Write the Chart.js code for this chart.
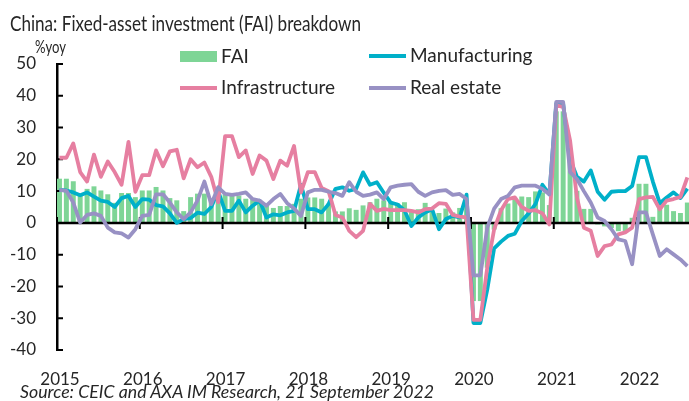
<!DOCTYPE html>
<html>
<head>
<meta charset="utf-8">
<script src="https://cdn.jsdelivr.net/npm/chart.js@4.4.1/dist/chart.umd.min.js"></script>
<style>
  html, body { margin: 0; padding: 0; background: #fff; }
  #wrap { position: relative; width: 689px; height: 401px; overflow: hidden;
          font-family: Lato, "Noto Sans", sans-serif; color: #262626; }
  #chart { position: absolute; left: 0; top: 0; }
  .t { position: absolute; white-space: nowrap; line-height: 20px; transform-origin: 0 50%; }
  .lg { font-size: 19px; }
  .sw { position: absolute; }
</style>
</head>
<body>
<div id="wrap">
  <canvas id="chart" width="689" height="401"></canvas>
  <div class="t fit" data-w="351" style="left:10px; top:11px; font-size:21px; line-height:24px;">China: Fixed-asset investment (FAI) breakdown</div>
  <div class="t fit" data-w="31" style="left:35px; top:37px; font-size:17px;">%yoy</div>

  <div class="sw" style="left:180px; top:51px; width:37px; height:11px; background:#7ed596;"></div>
  <div class="t lg" style="left:221px; top:46px;">FAI</div>
  <div class="sw" style="left:369px; top:54px; width:37px; height:4px; background:#00b0c9;"></div>
  <div class="t lg" style="left:410px; top:45px;">Manufacturing</div>
  <div class="sw" style="left:180px; top:86px; width:37px; height:4px; background:#e67fa1;"></div>
  <div class="t lg" style="left:221px; top:77px;">Infrastructure</div>
  <div class="sw" style="left:369px; top:86px; width:37px; height:4px; background:#9891c4;"></div>
  <div class="t lg" style="left:410px; top:77px;">Real estate</div>

  <div class="t fit" data-w="414" style="left:20px; top:382px; font-size:17.5px; font-style:italic;">Source: CEIC and AXA IM Research, 21 September 2022</div>
</div>
<script>
// monthly data, Jan 2015 .. Aug 2022 (Jan/Feb share the combined reading)
const years = ["2015", "2016", "2017", "2018", "2019", "2020", "2021", "2022"];
const yTicks = [-40, -30, -20, -10, 0, 10, 20, 30, 40, 50];

const fai = [
  13.8, 13.8, 13, 9, 10.6, 11.4, 10.1, 8.9, 6.2, 9.3, 9.3, 8,
  10.1, 10.1, 11.2, 10.1, 7.7, 7, 3.6, 8, 9.1, 9.1, 7.5, 6.5,
  8.9, 8.9, 8.5, 7.5, 7.5, 7, 5.4, 4.6, 5.2, 5.2, 5.9, 7.5,
  7.9, 7.9, 7.5, 6, 3.5, 3.5, 4.5, 4, 5.4, 6.4, 7.5, 7,
  6.5, 6, 6.4, 3.5, 4.2, 6.2, 3.6, 3, 4.4, 3.2, 4.6, 6.2,
  -24.5, -24.5, -14, -2, 4.5, 6, 7.5, 8.2, 8, 9.8, 9.5, 5.5,
  35, 35, 21, 10, 4.3, 4.3, -0.4, -1, -1.5, -2.5, -3, 1.5,
  12.2, 12.2, 1.8, 6, 5.6, 3.6, 3, 6.3
];
const manufacturing = [
  10.4, 10.2, 9.6, 8.7, 9.6, 8.3, 7, 6.6, 5, 7.8, 8.5, 5,
  7.5, 7.3, 5.6, 5.2, 3, 0, 1.2, 1.5, 3.2, 2.8, 5, 10,
  3.8, 3.8, 7, 3.3, 5.4, 7, 1.7, 2.7, 2.4, 3.3, 3.8, 12,
  4.3, 4.3, 3.3, 5.9, 10.7, 11.2, 10.1, 10.7, 15.9, 12, 12.8, 9.5,
  6.4, 5.8, 4, -1, 1.7, 3.3, 4.3, -2, 1.2, 2.2, 1.7, 8.9,
  -31.5, -31.5, -21, -8, -5.9, -4.1, -3.4, 0.6, 3, 6, 12, 9,
  37.5, 37.5, 20, 14.5, 13, 16.5, 9.8, 7.3, 9.8, 10, 10, 11.6,
  20.7, 20.7, 13, 6.2, 8, 9.6, 7.8, 10.8
];
const infrastructure = [
  20.5, 20.5, 25, 16, 13, 21.5, 14.5, 19.3, 16, 12, 25.5, 9.8,
  15, 15, 22.8, 17.8, 22.5, 23, 14, 20, 17.5, 19, 14.5, 6.5,
  27.3, 27.3, 20.7, 22.8, 15.4, 21.2, 19.6, 13.8, 19.6, 18, 24.2, 9.6,
  16, 16, 11, 10, 2.5, 1.7, -2.5, -4.5, -2.5, 6, 3.8, 4.4,
  4, 4, 4, 3.8, 3.3, 4.3, 4.5, 6.2, 6, 2.5, 2, 1.7,
  -30.5, -30.5, -14, -2, 4, 7.5, 8, 5, 3.8, 4, 3, -0.5,
  37, 36.5, 26, 8, -1.5, -2.5, -10.4, -7.3, -6.8, -3.6, -3, -1.5,
  7.5, 8, 8.2, 4.3, 7, 7.5, 8.2, 14.3
];
const realEstate = [
  10.4, 10.1, 6.4, 0.1, 2.5, 3, 2.2, -1.5, -3, -3.3, -4.6, -2,
  2.2, 2.5, 9, 9, 6.4, 3.3, 1.2, 3.3, 7, 13, 5.9, 11.2,
  9.1, 8.8, 9.1, 9.6, 7.5, 7, 5.4, 7.5, 9.1, 6.2, 4.5, 2.2,
  9.6, 10.4, 10.4, 9.8, 9.4, 8.5, 12.8, 9.8, 8.5, 8.9, 9.6, 7.5,
  11.2, 11.7, 12, 12.2, 9.8, 8.5, 9.6, 10.1, 10.3, 8.8, 9.1, 7.5,
  -16.5, -16.5, -1.5, 4.5, 7.5, 8.5, 11.2, 11.7, 11.7, 11.7, 10.7, 9,
  38.1, 38.1, 16, 13.8, 10, 6.4, 1.7, 0.6, -2, -5.2, -5.7, -13,
  3.3, 3.3, -3.6, -10.4, -8.3, -9.9, -11.5, -13.6
];

// shrink a few text lines to the width they have in the original
document.querySelectorAll(".fit").forEach(el => {
  const w = el.getBoundingClientRect().width;
  el.style.transform = "scaleX(" + (Number(el.dataset.w) / w) + ")";
});

// months on a linear axis, each value sits a little inside its month
const pts = arr => arr.map((v, i) => ({ x: i + 0.36, y: v }));

const axisMarks = {
  id: "axisMarks",
  afterDatasetDraw(chart, args) {
    if (args.index !== 0) return;
    const { ctx, chartArea, scales: { x, y } } = chart;
    const y0 = y.getPixelForValue(0);
    ctx.save();
    ctx.strokeStyle = "#000";
    ctx.lineWidth = 2.5;
    ctx.beginPath();
    ctx.moveTo(chartArea.left, y0);
    ctx.lineTo(chartArea.right, y0);
    ctx.stroke();
    ctx.lineWidth = 2;
    ctx.beginPath();
    x.ticks.forEach(t => {
      const px = x.getPixelForValue(t.value);
      ctx.moveTo(px, y0 - 6);
      ctx.lineTo(px, y0 + 6);
    });
    y.ticks.forEach(t => {
      const py = y.getPixelForValue(t.value);
      ctx.moveTo(chartArea.left, py);
      ctx.lineTo(chartArea.left + 6, py);
    });
    ctx.stroke();
    ctx.restore();
  }
};

const lineSet = (label, data, color, order) => ({
  type: "line",
  label: label,
  data: pts(data),
  borderColor: color,
  backgroundColor: color,
  borderWidth: 3.8,
  borderJoinStyle: "round",
  pointRadius: 0,
  tension: 0,
  order: order
});

new Chart(document.getElementById("chart"), {
  type: "bar",
  data: {
    datasets: [
      {
        label: "FAI",
        data: pts(fai),
        backgroundColor: "#7ed596",
        barThickness: 4.3,
        order: 4
      },
      lineSet("Manufacturing", manufacturing, "#00b0c9", 3),
      lineSet("Infrastructure", infrastructure, "#e67fa1", 2),
      lineSet("Real estate", realEstate, "#9891c4", 1)
    ]
  },
  plugins: [axisMarks],
  options: {
    responsive: false,
    animation: false,
    layout: { padding: { top: 64, left: 0, right: 0, bottom: 0 } },
    plugins: {
      legend: { display: false },
      tooltip: { enabled: false },
      title: { display: false }
    },
    scales: {
      x: {
        type: "linear",
        offset: false,
        min: 0,
        max: 91.6,
        grid: { display: false },
        border: { display: false },
        afterBuildTicks: s => {
          s.ticks = years.map((yr, k) => ({ value: k * 12 }));
        },
        afterFit: s => { s.height = 51; },
        ticks: {
          autoSkip: false,
          maxRotation: 0,
          padding: 11,
          labelOffset: 3,
          color: "#262626",
          font: { family: "Lato", size: 17 },
          callback: v => years[Math.round(v / 12)]
        }
      },
      y: {
        min: yTicks[0],
        max: yTicks[yTicks.length - 1],
        grid: { display: false, drawTicks: false },
        border: { display: true, color: "#000", width: 2.5 },
        afterFit: s => { s.width = 57; },
        ticks: {
          stepSize: 10,
          padding: 21,
          color: "#262626",
          font: { family: "Lato", size: 17 }
        }
      }
    }
  }
});
</script>
</body>
</html>
